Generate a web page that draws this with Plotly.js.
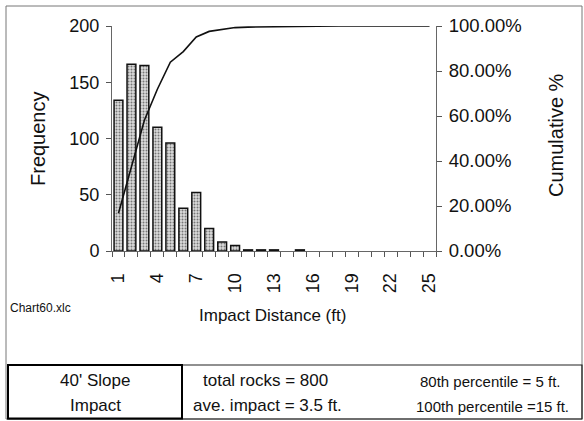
<!DOCTYPE html>
<html>
<head>
<meta charset="utf-8">
<script src="https://cdn.plot.ly/plotly-3.0.1.min.js"></script>
<style>
html,body{margin:0;padding:0;background:#fff;}
#chart{width:584px;height:421px;}
</style>
</head>
<body>
<div id="chart"></div>
<script>
// Impact distance categories (ft)
const distances = [1,2,3,4,5,6,7,8,9,10,11,12,13,14,15,16,17,18,19,20,21,22,23,24,25];
// Frequency of rocks per impact distance (null = no bar)
const frequency = [134,166,165,110,96,38,52,20,8,5,1,1,1,null,1,null,null,null,null,null,null,null,null,null,null];
// Cumulative percentage
const cumulative = [16.8,37.5,58.1,71.9,83.9,88.6,95.1,97.6,98.6,99.3,99.5,99.6,99.7,99.7,100,100,100,100,100,100,100,100,100,100,100];
// X tick labels shown
const xTickVals = [1,4,7,10,13,16,19,22,25];
const xTickText = ['1','4','7','10','13','16','19','22','25'];

const FONT = 'Liberation Sans, Arial, Helvetica, sans-serif';

// plot area in pixels
const L = 112, R = 436, T = 26, B = 251;
const W = 584, H = 421;
const px = x => (x - L) / (R - L);
const py = y => (B - y) / (B - T);

const traces = [
  {
    type: 'bar',
    x: distances,
    y: frequency,
    width: 0.68,
    marker: {
      color: '#c8c8c8',
      pattern: {shape: '.', fgcolor: '#777', bgcolor: '#dcdcdc', size: 3, solidity: 0.35},
      line: {color: '#111', width: 1.5}
    },
    yaxis: 'y',
    hoverinfo: 'x+y'
  },
  {
    type: 'scatter',
    mode: 'lines',
    x: distances,
    y: cumulative,
    yaxis: 'y2',
    line: {color: '#111', width: 1.6},
    hoverinfo: 'x+y'
  }
];

const shapes = [
  // outer frame
  {type:'rect', xref:'paper', yref:'paper', x0:px(6), x1:px(582), y0:py(6), y1:py(419), line:{color:'#777', width:1}},
  // table outer
  {type:'rect', xref:'paper', yref:'paper', x0:px(8), x1:px(582), y0:py(365), y1:py(419), line:{color:'#222', width:1.2}},
  // left cell (thicker)
  {type:'rect', xref:'paper', yref:'paper', x0:px(8), x1:px(182), y0:py(365), y1:py(418.5), line:{color:'#000', width:2}},
];

const ann = (text, x, y, size, opts) => Object.assign({
  text: text, xref:'paper', yref:'paper', x: px(x), y: py(y),
  showarrow:false, font:{family:FONT, size:size, color:'#111'},
  xanchor:'center', yanchor:'middle'
}, opts || {});

const annotations = [
  ann('Frequency', 38, 139, 20, {textangle:-90}),
  ann('Cumulative %', 556, 135, 20, {textangle:-90}),
  ann('Impact Distance (ft)', 272, 316, 17),
  ann('Chart60.xlc', 8, 308, 12, {xanchor:'left'}),
  ann("40' Slope", 95, 380, 17),
  ann('Impact', 95, 405, 17),
  ann('total rocks = 800', 265, 380, 17),
  ann('ave. impact = 3.5 ft.', 267, 405, 17),
  ann('80th percentile = 5 ft.', 490, 381, 15),
  ann('100th percentile =15 ft.', 492, 406, 15),
];

const layout = {
  width: W, height: H,
  margin: {l: L, r: W - R, t: T, b: H - B, pad: 0},
  paper_bgcolor: '#fff', plot_bgcolor: '#fff',
  showlegend: false,
  font: {family: FONT, size: 18, color: '#111'},
  bargap: 0.3,
  xaxis: {
    range: [0.5, 25.5],
    tickvals: xTickVals, ticktext: xTickText,
    tickangle: -90,
    ticks: '', showgrid: false, zeroline: false,
    showline: true, linecolor: '#666', linewidth: 1,
    ticklabelstandoff: 14,
    tickfont: {family: FONT, size: 18, color: '#111'},
    minor: {tick0: 0.5, dtick: 1, ticks: 'outside', ticklen: 5, tickcolor: '#555', tickwidth: 1, showgrid: false}
  },
  yaxis: {
    range: [0, 200], dtick: 50,
    ticks: 'outside', ticklen: 5, tickcolor: '#555',
    showline: true, linecolor: '#666', linewidth: 1,
    showgrid: false, zeroline: false,
    ticklabelstandoff: 3,
    tickfont: {family: FONT, size: 18, color: '#111'}
  },
  yaxis2: {
    overlaying: 'y', side: 'right',
    range: [0, 100], dtick: 20,
    tickformat: '.2f', ticksuffix: '%',
    ticks: 'outside', ticklen: 5, tickcolor: '#555',
    showline: true, linecolor: '#666', linewidth: 1,
    showgrid: false, zeroline: false,
    ticklabelstandoff: 3,
    tickfont: {family: FONT, size: 18.5, color: '#111'}
  },
  shapes: shapes,
  annotations: annotations
};

Plotly.newPlot('chart', traces, layout, {displayModeBar: false, staticPlot: true});
</script>
</body>
</html>
